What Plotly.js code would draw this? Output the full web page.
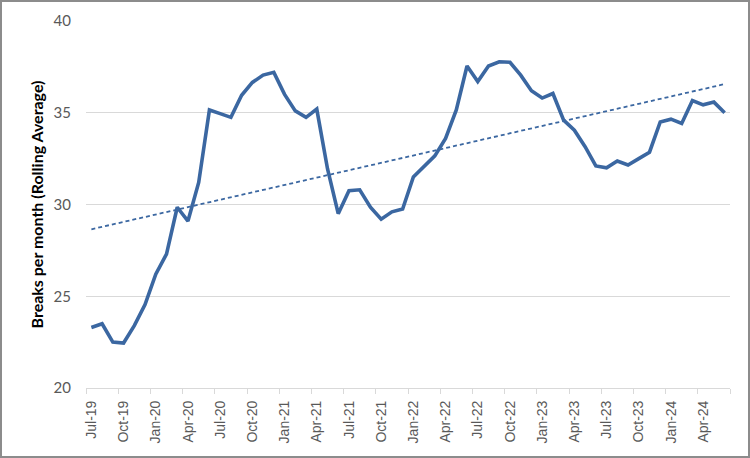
<!DOCTYPE html>
<html>
<head>
<meta charset="utf-8">
<script src="https://cdn.plot.ly/plotly-3.0.1.min.js"></script>
<style>
html,body{margin:0;padding:0;background:#fff;}
#wrap{position:relative;width:750px;height:458px;}
#chart{position:absolute;left:0;top:0;width:750px;height:458px;}
#frame{position:absolute;left:0;top:0;width:750px;height:458px;box-sizing:border-box;border:2px solid #8c8c8c;pointer-events:none;}
</style>
</head>
<body>
<div id="wrap"><div id="chart"></div><div id="frame"></div></div>
<script>
const months = [
 'Jul-19','Aug-19','Sep-19','Oct-19','Nov-19','Dec-19',
 'Jan-20','Feb-20','Mar-20','Apr-20','May-20','Jun-20',
 'Jul-20','Aug-20','Sep-20','Oct-20','Nov-20','Dec-20',
 'Jan-21','Feb-21','Mar-21','Apr-21','May-21','Jun-21',
 'Jul-21','Aug-21','Sep-21','Oct-21','Nov-21','Dec-21',
 'Jan-22','Feb-22','Mar-22','Apr-22','May-22','Jun-22',
 'Jul-22','Aug-22','Sep-22','Oct-22','Nov-22','Dec-22',
 'Jan-23','Feb-23','Mar-23','Apr-23','May-23','Jun-23',
 'Jul-23','Aug-23','Sep-23','Oct-23','Nov-23','Dec-23',
 'Jan-24','Feb-24','Mar-24','Apr-24','May-24','Jun-24'
];
const breaksRolling = [
 23.3, 23.5, 22.5, 22.45, 23.4, 24.55,
 26.2, 27.3, 29.85, 29.1, 31.2, 35.15,
 34.95, 34.75, 35.95, 36.65, 37.05, 37.2,
 36.0, 35.1, 34.75, 35.2, 31.95, 29.5,
 30.75, 30.8, 29.85, 29.2, 29.6, 29.75,
 31.5, 32.05, 32.65, 33.6, 35.15, 37.55,
 36.7, 37.55, 37.78, 37.75, 37.05, 36.2,
 35.8, 36.05, 34.6, 34.05, 33.15, 32.1,
 32.0, 32.37, 32.15, 32.5, 32.85, 34.5,
 34.65, 34.42, 35.67, 35.43, 35.58, 35.0
];
// linear trend line at first and last month
const trendMonths = ['Jul-19','Jun-24'];
const trendValues = [28.65, 36.56];

const idx = m => months.indexOf(m);
const xs = months.map((m,i)=>i);
const tickIdx = xs.filter(i => i % 3 === 0);
const tickText = tickIdx.map(i => months[i]);
const boundaries = [];
for (let i = 0; i <= months.length; i += 3) boundaries.push(i - 0.5);
if (boundaries[boundaries.length-1] !== months.length - 0.5) boundaries.push(months.length - 0.5);

const blue = '#3b67a1';
const traces = [
 {x: trendMonths.map(idx), y: trendValues, mode:'lines', type:'scatter',
  line:{color:blue, width:1.8, dash:'4px,3px'}, hoverinfo:'skip'},
 {x: xs, y: breaksRolling, mode:'lines', type:'scatter',
  line:{color:blue, width:3.6, shape:'linear'}},
 {x: [-0.5, months.length-0.5], y:[20,20], xaxis:'x2', mode:'lines', type:'scatter',
  line:{width:0}, hoverinfo:'skip', showlegend:false}
];
const layout = {
 width:750, height:458,
 margin:{l:86, r:20, t:21, b:70, pad:0},
 paper_bgcolor:'#fff', plot_bgcolor:'#fff',
 showlegend:false,
 xaxis:{
  range:[-0.5, months.length-0.5], tickmode:'array', tickvals:tickIdx, ticktext:tickText,
  ticks:'', tickangle:-90, ticklabelstandoff:6,
  tickfont:{family:'Liberation Sans, Arial, sans-serif', size:14, color:'#595959'},
  showline:true, linecolor:'#d9d9d9', linewidth:1, showgrid:false, zeroline:false, fixedrange:true
 },
 xaxis2:{
  overlaying:'x', anchor:'y', side:'bottom',
  range:[-0.5, months.length-0.5], tickmode:'array', tickvals:boundaries,
  ticks:'outside', ticklen:5, tickcolor:'#d9d9d9', tickwidth:1,
  showticklabels:false, showline:false, showgrid:false, zeroline:false
 },
 yaxis:{
  range:[20,40], dtick:5, tick0:20, ticks:'', ticklabelstandoff:14,
  tickfont:{family:'Lato, sans-serif', size:15, color:'#595959'},
  showgrid:true, gridcolor:'#d9d9d9', gridwidth:1, zeroline:false, showline:false,
  title:{text:'Breaks per month (Rolling Average)', standoff:5,
   font:{family:'Lato, sans-serif', size:16, color:'#000', weight:'bold'}}
 }
};
Plotly.newPlot('chart', traces, layout, {displayModeBar:false, staticPlot:true});
</script>
</body>
</html>
